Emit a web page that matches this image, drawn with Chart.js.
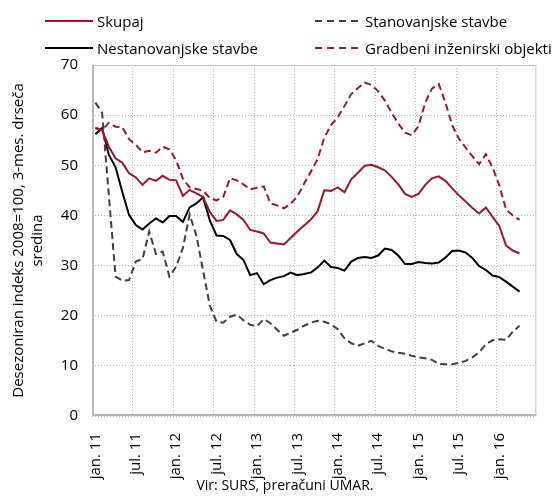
<!DOCTYPE html>
<html>
<head>
<meta charset="utf-8">
<script src="https://cdn.jsdelivr.net/npm/chart.js@4.4.0/dist/chart.umd.min.js"></script>
<style>
  body { margin: 0; background: #fff; font-family: "Open Sans", sans-serif; }
  #wrap { position: relative; width: 560px; height: 496px; overflow: hidden; }
  canvas { position: absolute; left: 0; top: 0; }
  .leg { position: absolute; font-size: 15px; line-height: 18px; color: #000; white-space: nowrap; }
  .leg svg { position: absolute; left: -52px; top: 7px; }
  #source { position: absolute; top: 476px; left: 0; width: 570px; text-align: center; font-size: 14px; line-height: 18px; }
</style>
</head>
<body>
<div id="wrap">
  <canvas id="chart" width="560" height="496"></canvas>
  <div class="leg" style="left:97px; top:12px;">
    <svg width="48" height="4"><line x1="0" y1="2" x2="48" y2="2" stroke="#a6122d" stroke-width="2"/></svg>Skupaj
  </div>
  <div class="leg" style="left:365px; top:12px;">
    <svg width="48" height="4"><line x1="2" y1="2" x2="48" y2="2" stroke="#404040" stroke-width="2" stroke-dasharray="7,5"/></svg>Stanovanjske stavbe
  </div>
  <div class="leg" style="left:97px; top:39px;">
    <svg width="48" height="4"><line x1="0" y1="2" x2="48" y2="2" stroke="#000" stroke-width="2"/></svg>Nestanovanjske stavbe
  </div>
  <div class="leg" style="left:365px; top:39px;">
    <svg width="48" height="4"><line x1="2" y1="2" x2="48" y2="2" stroke="#a6122d" stroke-width="2" stroke-dasharray="7,5"/></svg>Gradbeni inženirski objekti
  </div>
  <div id="source">Vir: SURS, preračuni UMAR.</div>
</div>
<script>
// Months jan. 2011 - jun. 2016, tick label every 6 months
const monthNames = ['jan.', 'feb.', 'mar.', 'apr.', 'maj', 'jun.', 'jul.', 'avg.', 'sep.', 'okt.', 'nov.', 'dec.'];
const yearNames = ['11', '12', '13', '14', '15', '16'];
const labels = [];
yearNames.forEach(y => monthNames.forEach(m => labels.push(m + ' ' + y)));
labels.length = 66;

const yTitle = ['Desezoniran indeks 2008=100, 3-mes. drseča', 'sredina'];

// Series values (jan. 11 - apr. 16)
const skupaj = [57.4, 57, 53.7, 51.4, 50.5, 48.4, 47.6, 46.1, 47.4, 46.9, 47.9, 47.1,
  47, 43.9, 45.1, 44.4, 43.7, 40.7, 38.9, 39.1, 41, 40.2, 39.1, 37.1,
  36.8, 36.4, 34.6, 34.4, 34.2, 35.5, 36.8, 38, 39.2, 40.8, 45, 44.9,
  45.6, 44.6, 47.2, 48.5, 49.9, 50.1, 49.6, 49, 47.7, 46.2, 44.3, 43.7,
  44.3, 46.1, 47.4, 47.8, 46.9, 45.4, 44, 42.8, 41.5, 40.4, 41.6, 39.7,
  37.9, 34, 33, 32.4];

const stanovanjske = [62.5, 60.5, 44, 27.8, 27, 27.1, 30.8, 31.3, 36.8, 32.3, 32.8, 27.8,
  29.8, 33.5, 40.2, 36, 29, 22, 18.8, 18.6, 19.8, 20.2, 19.1, 18.2,
  17.9, 19.3, 18.5, 17.2, 16, 16.6, 17.2, 18, 18.6, 19, 18.8, 18.3,
  17.3, 15.5, 14.5, 14, 14.5, 15, 14, 13.4, 12.9, 12.6, 12.4, 12,
  11.7, 11.5, 11.2, 10.4, 10.3, 10.3, 10.6, 11, 11.7, 12.7, 14.3, 15.1,
  15.3, 15.2, 16.8, 18];

const nestanovanjske = [56.2, 57.4, 52.1, 49.6, 44.7, 40.1, 38.1, 37.2, 38.4, 39.4, 38.6, 39.9,
  39.9, 38.7, 41.6, 42.4, 43.6, 39, 36, 35.9, 35.1, 32.3, 31.1, 28.1,
  28.5, 26.3, 27.1, 27.6, 27.9, 28.6, 28.1, 28.3, 28.6, 29.6, 31, 29.7,
  29.5, 29, 30.8, 31.5, 31.7, 31.5, 32, 33.4, 33.1, 32, 30.3, 30.3,
  30.7, 30.5, 30.4, 30.6, 31.6, 32.9, 33, 32.6, 31.5, 29.9, 29.1, 28,
  27.7, 26.8, 25.8, 24.8];

const gradbeni = [57.5, 57, 58.5, 57.7, 57.6, 55.2, 54.1, 52.6, 52.9, 52.5, 53.7, 53.2,
  51, 47.3, 45.6, 45.3, 44.9, 43.5, 43, 43.7, 47.4, 47, 46.2, 45.2,
  45.5, 45.8, 42.4, 42, 41.4, 42.3, 43.8, 46.3, 48.7, 51.2, 55.5, 58,
  59.6, 61.8, 64.2, 65.4, 66.5, 66, 64.8, 62.9, 60.5, 58.3, 56.5, 56,
  57.8, 62.5, 65.3, 66.2, 62.5, 58, 55.3, 53.5, 51.8, 50.2, 52.2, 49.5,
  46, 41.2, 40, 39.1];

const red = '#a6122d';
const font = { family: '"Open Sans", sans-serif', size: 15 };
const gridColor = '#b5b5b5';

// vertical dotted grid every 6 months (between categories) and frame round the plot
const frame = {
  id: 'frame',
  beforeDatasetsDraw(chart) {
    const { ctx, chartArea: a, scales } = chart;
    const x = scales.x;
    const half = (x.getPixelForValue(1) - x.getPixelForValue(0)) / 2;
    ctx.save();
    ctx.strokeStyle = gridColor;
    ctx.lineWidth = 1;
    ctx.setLineDash([1, 2]);
    for (let i = 6; i < labels.length; i += 6) {
      const px = Math.round(x.getPixelForValue(i) - half) + 0.5;
      ctx.beginPath();
      ctx.moveTo(px, a.top);
      ctx.lineTo(px, a.bottom);
      ctx.stroke();
    }
    ctx.setLineDash([]);
    ctx.strokeStyle = '#c4c4c4';
    ctx.strokeRect(a.left + 0.5, a.top + 0.5, a.right - a.left - 1, a.bottom - a.top - 1);
    ctx.strokeStyle = '#b8b8b8';
    ctx.lineWidth = 2;
    ctx.beginPath();
    ctx.moveTo(a.left + 1, a.top);
    ctx.lineTo(a.left + 1, a.bottom - 1);
    ctx.lineTo(a.right, a.bottom - 1);
    ctx.stroke();
    ctx.restore();
  }
};

new Chart(document.getElementById('chart'), {
  type: 'line',
  data: {
    labels: labels,
    datasets: [
      { label: 'Skupaj', data: skupaj, borderColor: red, borderWidth: 2 },
      { label: 'Stanovanjske stavbe', data: stanovanjske, borderColor: '#404040', borderWidth: 2, borderDash: [7, 4] },
      { label: 'Nestanovanjske stavbe', data: nestanovanjske, borderColor: '#000', borderWidth: 2 },
      { label: 'Gradbeni inženirski objekti', data: gradbeni, borderColor: red, borderWidth: 2, borderDash: [7, 4] }
    ]
  },
  options: {
    responsive: false,
    animation: false,
    layout: { padding: { top: 65, right: 3, left: 0, bottom: 0 } },
    elements: { point: { radius: 0 }, line: { tension: 0, fill: false } },
    plugins: { legend: { display: false }, tooltip: { enabled: false } },
    scales: {
      x: {
        offset: true,
        grid: { display: false },
        border: { display: false },
        ticks: {
          autoSkip: false,
          maxRotation: 90,
          minRotation: 90,
          padding: 9,
          color: '#000',
          font: font,
          callback: (v, i) => (i % 6 === 0 ? labels[i] : '')
        },
        afterFit: s => { s.height = 80; }
      },
      y: {
        min: 0,
        max: 70,
        grid: { drawTicks: false, color: gridColor },
        border: { display: false, dash: [1, 2] },
        ticks: { stepSize: 10, padding: 14, color: '#000', font: font },
        title: {
          display: true,
          text: yTitle,
          color: '#000',
          font: { family: font.family, size: 15, lineHeight: 1.27 },
          padding: { top: 9, bottom: 0 }
        },
        afterFit: s => { s.width = 92; }
      }
    }
  },
  plugins: [frame]
});
</script>
</body>
</html>
